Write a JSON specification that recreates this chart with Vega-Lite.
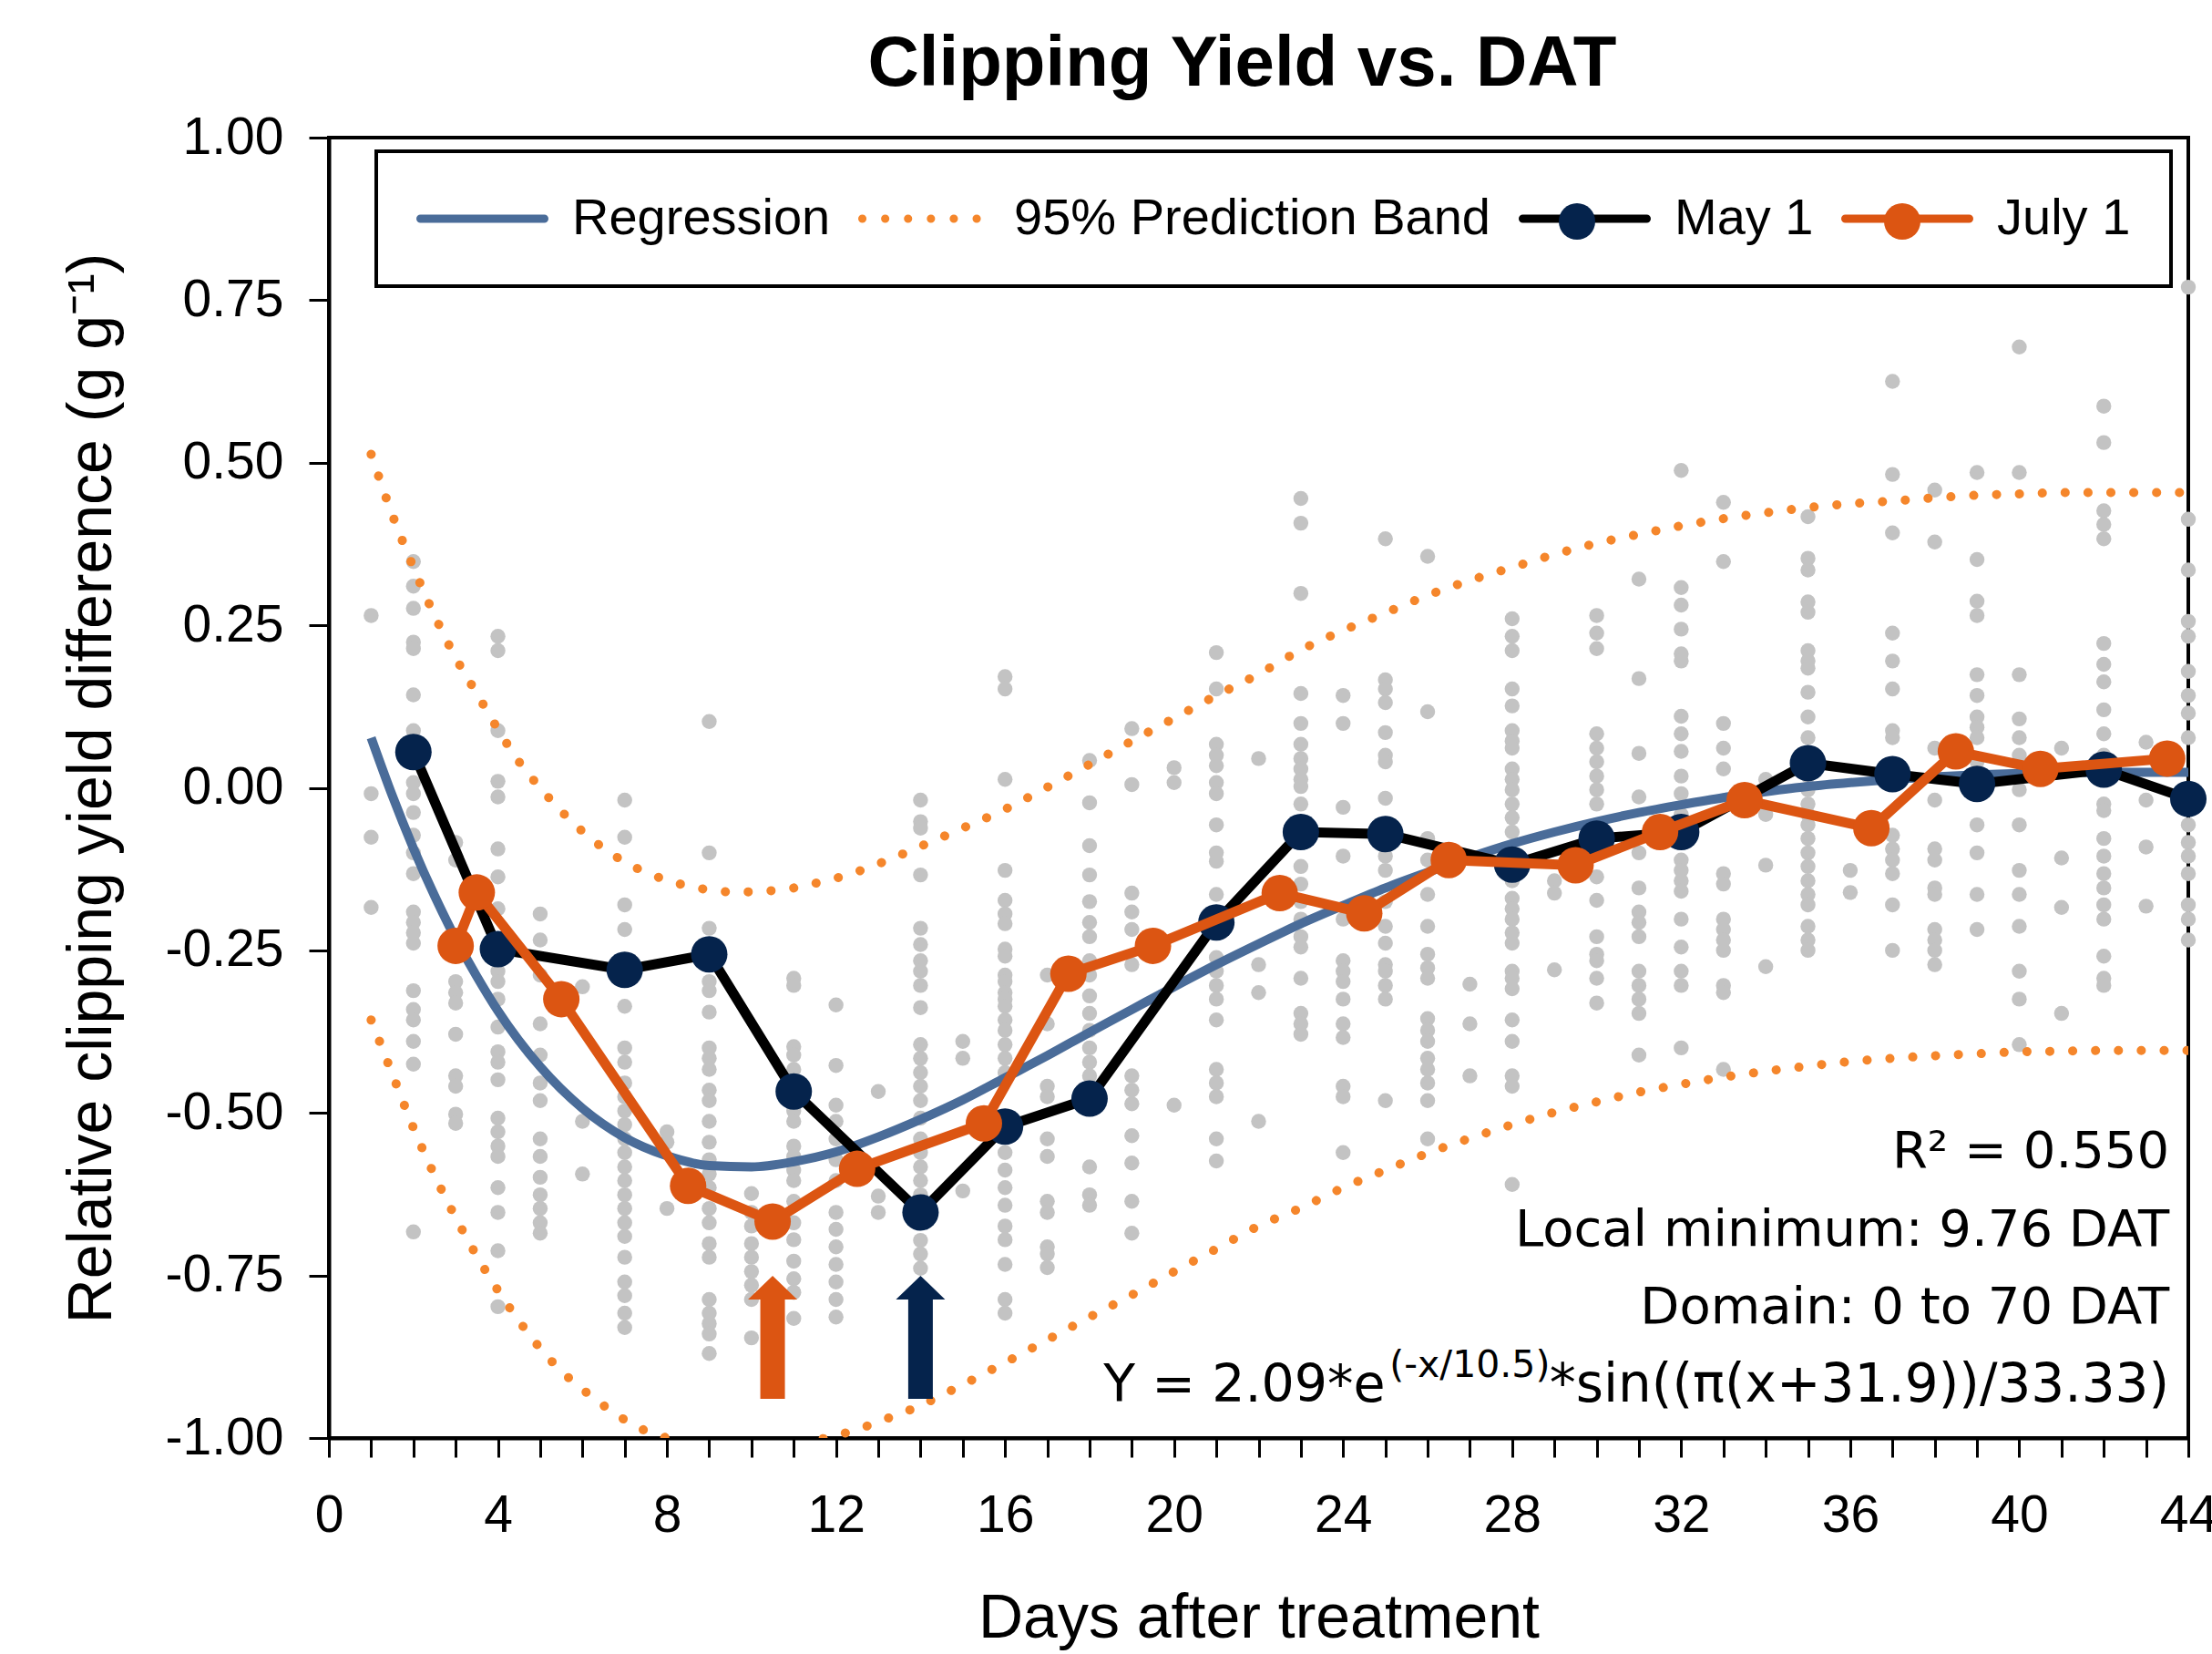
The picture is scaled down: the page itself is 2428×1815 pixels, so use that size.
{
  "$schema": "https://vega.github.io/schema/vega-lite/v6.json",
  "width": 2041,
  "height": 1427,
  "autosize": {"type": "none"},
  "padding": {"left": 361, "top": 151, "right": 26, "bottom": 237},
  "background": "white",
  "config": {
    "view": {"stroke": "black", "strokeWidth": 4},
    "axis": {"labelFont": "Liberation Sans", "titleFont": "Liberation Sans", "titleFontWeight": "normal", "labelColor": "black", "titleColor": "black", "domainColor": "black", "tickColor": "black", "grid": false}
  },
  "title": {"text": "Clipping Yield vs. DAT", "font": "Liberation Sans", "fontSize": 78, "fontWeight": "bold", "color": "black", "anchor": "middle", "dx": -18, "offset": 12},
  "datasets": {
    "scatter": [
      {"x":1,"y":0.265},{"x":1,"y":-0.009},{"x":1,"y":-0.076},{"x":1,"y":-0.184},
      {"x":2,"y":0.348},{"x":2,"y":0.31},{"x":2,"y":0.276},{"x":2,"y":0.224},{"x":2,"y":0.214},{"x":2,"y":0.143},{"x":2,"y":0.088},{"x":2,"y":0.008},{"x":2,"y":-0.009},{"x":2,"y":-0.038},{"x":2,"y":-0.073},{"x":2,"y":-0.1},{"x":2,"y":-0.132},{"x":2,"y":-0.191},{"x":2,"y":-0.207},{"x":2,"y":-0.223},{"x":2,"y":-0.239},{"x":2,"y":-0.312},{"x":2,"y":-0.341},{"x":2,"y":-0.357},{"x":2,"y":-0.39},{"x":2,"y":-0.425},{"x":2,"y":-0.683},
      {"x":3,"y":-0.084},{"x":3,"y":-0.111},{"x":3,"y":-0.298},{"x":3,"y":-0.315},{"x":3,"y":-0.331},{"x":3,"y":-0.379},{"x":3,"y":-0.443},{"x":3,"y":-0.459},{"x":3,"y":-0.502},{"x":3,"y":-0.516},
      {"x":4,"y":0.233},{"x":4,"y":0.211},{"x":4,"y":0.088},{"x":4,"y":0.01},{"x":4,"y":-0.014},{"x":4,"y":-0.094},{"x":4,"y":-0.137},{"x":4,"y":-0.186},{"x":4,"y":-0.282},{"x":4,"y":-0.298},{"x":4,"y":-0.325},{"x":4,"y":-0.368},{"x":4,"y":-0.406},{"x":4,"y":-0.422},{"x":4,"y":-0.449},{"x":4,"y":-0.508},{"x":4,"y":-0.529},{"x":4,"y":-0.551},{"x":4,"y":-0.567},{"x":4,"y":-0.615},{"x":4,"y":-0.653},{"x":4,"y":-0.712},{"x":4,"y":-0.798},
      {"x":5,"y":-0.194},{"x":5,"y":-0.234},{"x":5,"y":-0.288},{"x":5,"y":-0.363},{"x":5,"y":-0.411},{"x":5,"y":-0.454},{"x":5,"y":-0.481},{"x":5,"y":-0.54},{"x":5,"y":-0.567},{"x":5,"y":-0.599},{"x":5,"y":-0.626},{"x":5,"y":-0.647},{"x":5,"y":-0.669},{"x":5,"y":-0.685},
      {"x":6,"y":-0.306},{"x":6,"y":-0.513},{"x":6,"y":-0.594},
      {"x":7,"y":-0.019},{"x":7,"y":-0.076},{"x":7,"y":-0.18},{"x":7,"y":-0.218},{"x":7,"y":-0.336},{"x":7,"y":-0.4},{"x":7,"y":-0.422},{"x":7,"y":-0.454},{"x":7,"y":-0.475},{"x":7,"y":-0.497},{"x":7,"y":-0.518},{"x":7,"y":-0.54},{"x":7,"y":-0.561},{"x":7,"y":-0.583},{"x":7,"y":-0.604},{"x":7,"y":-0.626},{"x":7,"y":-0.647},{"x":7,"y":-0.669},{"x":7,"y":-0.69},{"x":7,"y":-0.722},{"x":7,"y":-0.76},{"x":7,"y":-0.781},{"x":7,"y":-0.808},{"x":7,"y":-0.83},
      {"x":8,"y":-0.529},{"x":8,"y":-0.545},{"x":8,"y":-0.647},
      {"x":9,"y":0.102},{"x":9,"y":-0.1},{"x":9,"y":-0.216},{"x":9,"y":-0.298},{"x":9,"y":-0.312},{"x":9,"y":-0.345},{"x":9,"y":-0.4},{"x":9,"y":-0.416},{"x":9,"y":-0.433},{"x":9,"y":-0.465},{"x":9,"y":-0.481},{"x":9,"y":-0.513},{"x":9,"y":-0.545},{"x":9,"y":-0.572},{"x":9,"y":-0.594},{"x":9,"y":-0.615},{"x":9,"y":-0.647},{"x":9,"y":-0.669},{"x":9,"y":-0.701},{"x":9,"y":-0.722},{"x":9,"y":-0.787},{"x":9,"y":-0.808},{"x":9,"y":-0.824},{"x":9,"y":-0.84},{"x":9,"y":-0.87},
      {"x":10,"y":-0.624},{"x":10,"y":-0.653},{"x":10,"y":-0.674},{"x":10,"y":-0.701},{"x":10,"y":-0.722},{"x":10,"y":-0.744},{"x":10,"y":-0.765},{"x":10,"y":-0.787},{"x":10,"y":-0.846},
      {"x":11,"y":-0.293},{"x":11,"y":-0.304},{"x":11,"y":-0.398},{"x":11,"y":-0.411},{"x":11,"y":-0.433},{"x":11,"y":-0.454},{"x":11,"y":-0.497},{"x":11,"y":-0.513},{"x":11,"y":-0.551},{"x":11,"y":-0.567},{"x":11,"y":-0.588},{"x":11,"y":-0.604},{"x":11,"y":-0.636},{"x":11,"y":-0.669},{"x":11,"y":-0.695},{"x":11,"y":-0.728},{"x":11,"y":-0.755},{"x":11,"y":-0.776},{"x":11,"y":-0.816},
      {"x":12,"y":-0.334},{"x":12,"y":-0.427},{"x":12,"y":-0.488},{"x":12,"y":-0.513},{"x":12,"y":-0.54},{"x":12,"y":-0.572},{"x":12,"y":-0.604},{"x":12,"y":-0.653},{"x":12,"y":-0.679},{"x":12,"y":-0.706},{"x":12,"y":-0.733},{"x":12,"y":-0.76},{"x":12,"y":-0.787},{"x":12,"y":-0.814},
      {"x":13,"y":-0.467},{"x":13,"y":-0.628},{"x":13,"y":-0.653},
      {"x":14,"y":-0.019},{"x":14,"y":-0.052},{"x":14,"y":-0.062},{"x":14,"y":-0.134},{"x":14,"y":-0.216},{"x":14,"y":-0.241},{"x":14,"y":-0.266},{"x":14,"y":-0.282},{"x":14,"y":-0.304},{"x":14,"y":-0.338},{"x":14,"y":-0.395},{"x":14,"y":-0.416},{"x":14,"y":-0.438},{"x":14,"y":-0.459},{"x":14,"y":-0.481},{"x":14,"y":-0.508},{"x":14,"y":-0.54},{"x":14,"y":-0.561},{"x":14,"y":-0.583},{"x":14,"y":-0.604},{"x":14,"y":-0.626},{"x":14,"y":-0.696},{"x":14,"y":-0.717},{"x":14,"y":-0.739},
      {"x":15,"y":-0.39},{"x":15,"y":-0.416},{"x":15,"y":-0.62},
      {"x":16,"y":0.171},{"x":16,"y":0.152},{"x":16,"y":0.013},{"x":16,"y":-0.127},{"x":16,"y":-0.173},{"x":16,"y":-0.194},{"x":16,"y":-0.209},{"x":16,"y":-0.248},{"x":16,"y":-0.259},{"x":16,"y":-0.288},{"x":16,"y":-0.298},{"x":16,"y":-0.315},{"x":16,"y":-0.325},{"x":16,"y":-0.336},{"x":16,"y":-0.357},{"x":16,"y":-0.373},{"x":16,"y":-0.395},{"x":16,"y":-0.416},{"x":16,"y":-0.438},{"x":16,"y":-0.561},{"x":16,"y":-0.588},{"x":16,"y":-0.615},{"x":16,"y":-0.642},{"x":16,"y":-0.674},{"x":16,"y":-0.695},{"x":16,"y":-0.733},{"x":16,"y":-0.787},{"x":16,"y":-0.808},
      {"x":17,"y":-0.288},{"x":17,"y":-0.363},{"x":17,"y":-0.459},{"x":17,"y":-0.475},{"x":17,"y":-0.54},{"x":17,"y":-0.567},{"x":17,"y":-0.636},{"x":17,"y":-0.653},{"x":17,"y":-0.706},{"x":17,"y":-0.717},{"x":17,"y":-0.738},
      {"x":18,"y":0.042},{"x":18,"y":-0.023},{"x":18,"y":-0.089},{"x":18,"y":-0.134},{"x":18,"y":-0.175},{"x":18,"y":-0.207},{"x":18,"y":-0.229},{"x":18,"y":-0.266},{"x":18,"y":-0.288},{"x":18,"y":-0.32},{"x":18,"y":-0.347},{"x":18,"y":-0.373},{"x":18,"y":-0.4},{"x":18,"y":-0.422},{"x":18,"y":-0.443},{"x":18,"y":-0.583},{"x":18,"y":-0.626},{"x":18,"y":-0.642},
      {"x":19,"y":0.091},{"x":19,"y":0.005},{"x":19,"y":-0.162},{"x":19,"y":-0.191},{"x":19,"y":-0.218},{"x":19,"y":-0.272},{"x":19,"y":-0.443},{"x":19,"y":-0.465},{"x":19,"y":-0.486},{"x":19,"y":-0.535},{"x":19,"y":-0.577},{"x":19,"y":-0.636},{"x":19,"y":-0.685},
      {"x":20,"y":0.031},{"x":20,"y":0.008},{"x":20,"y":-0.488},
      {"x":21,"y":0.208},{"x":21,"y":0.152},{"x":21,"y":0.067},{"x":21,"y":0.05},{"x":21,"y":0.034},{"x":21,"y":0.008},{"x":21,"y":-0.009},{"x":21,"y":-0.057},{"x":21,"y":-0.1},{"x":21,"y":-0.113},{"x":21,"y":-0.164},{"x":21,"y":-0.213},{"x":21,"y":-0.261},{"x":21,"y":-0.282},{"x":21,"y":-0.304},{"x":21,"y":-0.325},{"x":21,"y":-0.357},{"x":21,"y":-0.433},{"x":21,"y":-0.454},{"x":21,"y":-0.475},{"x":21,"y":-0.54},{"x":21,"y":-0.574},
      {"x":22,"y":0.045},{"x":22,"y":-0.272},{"x":22,"y":-0.315},{"x":22,"y":-0.513},
      {"x":23,"y":0.445},{"x":23,"y":0.407},{"x":23,"y":0.299},{"x":23,"y":0.145},{"x":23,"y":0.099},{"x":23,"y":0.067},{"x":23,"y":0.045},{"x":23,"y":0.029},{"x":23,"y":0.013},{"x":23,"y":0.002},{"x":23,"y":-0.025},{"x":23,"y":-0.121},{"x":23,"y":-0.148},{"x":23,"y":-0.175},{"x":23,"y":-0.202},{"x":23,"y":-0.229},{"x":23,"y":-0.245},{"x":23,"y":-0.293},{"x":23,"y":-0.347},{"x":23,"y":-0.363},{"x":23,"y":-0.379},
      {"x":24,"y":0.142},{"x":24,"y":0.099},{"x":24,"y":-0.03},{"x":24,"y":-0.105},{"x":24,"y":-0.202},{"x":24,"y":-0.266},{"x":24,"y":-0.282},{"x":24,"y":-0.298},{"x":24,"y":-0.325},{"x":24,"y":-0.363},{"x":24,"y":-0.384},{"x":24,"y":-0.459},{"x":24,"y":-0.475},{"x":24,"y":-0.561},
      {"x":25,"y":0.383},{"x":25,"y":0.166},{"x":25,"y":0.152},{"x":25,"y":0.131},{"x":25,"y":0.085},{"x":25,"y":0.05},{"x":25,"y":0.04},{"x":25,"y":-0.016},{"x":25,"y":-0.105},{"x":25,"y":-0.127},{"x":25,"y":-0.175},{"x":25,"y":-0.213},{"x":25,"y":-0.239},{"x":25,"y":-0.272},{"x":25,"y":-0.282},{"x":25,"y":-0.304},{"x":25,"y":-0.325},{"x":25,"y":-0.481},
      {"x":26,"y":0.356},{"x":26,"y":0.117},{"x":26,"y":-0.078},{"x":26,"y":-0.111},{"x":26,"y":-0.164},{"x":26,"y":-0.213},{"x":26,"y":-0.256},{"x":26,"y":-0.277},{"x":26,"y":-0.293},{"x":26,"y":-0.355},{"x":26,"y":-0.373},{"x":26,"y":-0.39},{"x":26,"y":-0.416},{"x":26,"y":-0.433},{"x":26,"y":-0.454},{"x":26,"y":-0.481},{"x":26,"y":-0.54},
      {"x":27,"y":-0.302},{"x":27,"y":-0.363},{"x":27,"y":-0.443},
      {"x":28,"y":0.26},{"x":28,"y":0.233},{"x":28,"y":0.211},{"x":28,"y":0.152},{"x":28,"y":0.126},{"x":28,"y":0.088},{"x":28,"y":0.072},{"x":28,"y":0.061},{"x":28,"y":0.029},{"x":28,"y":0.013},{"x":28,"y":-0.003},{"x":28,"y":-0.025},{"x":28,"y":-0.046},{"x":28,"y":-0.068},{"x":28,"y":-0.121},{"x":28,"y":-0.143},{"x":28,"y":-0.17},{"x":28,"y":-0.186},{"x":28,"y":-0.202},{"x":28,"y":-0.223},{"x":28,"y":-0.239},{"x":28,"y":-0.282},{"x":28,"y":-0.293},{"x":28,"y":-0.309},{"x":28,"y":-0.357},{"x":28,"y":-0.39},{"x":28,"y":-0.443},{"x":28,"y":-0.459},{"x":28,"y":-0.61},
      {"x":29,"y":-0.143},{"x":29,"y":-0.162},{"x":29,"y":-0.28},
      {"x":30,"y":0.265},{"x":30,"y":0.238},{"x":30,"y":0.214},{"x":30,"y":0.083},{"x":30,"y":0.061},{"x":30,"y":0.04},{"x":30,"y":0.018},{"x":30,"y":-0.003},{"x":30,"y":-0.025},{"x":30,"y":-0.057},{"x":30,"y":-0.137},{"x":30,"y":-0.173},{"x":30,"y":-0.229},{"x":30,"y":-0.256},{"x":30,"y":-0.266},{"x":30,"y":-0.293},{"x":30,"y":-0.331},
      {"x":31,"y":0.321},{"x":31,"y":0.168},{"x":31,"y":0.053},{"x":31,"y":-0.014},{"x":31,"y":-0.1},{"x":31,"y":-0.154},{"x":31,"y":-0.191},{"x":31,"y":-0.207},{"x":31,"y":-0.229},{"x":31,"y":-0.282},{"x":31,"y":-0.304},{"x":31,"y":-0.325},{"x":31,"y":-0.347},{"x":31,"y":-0.411},
      {"x":32,"y":0.488},{"x":32,"y":0.308},{"x":32,"y":0.281},{"x":32,"y":0.244},{"x":32,"y":0.206},{"x":32,"y":0.195},{"x":32,"y":0.11},{"x":32,"y":0.083},{"x":32,"y":0.056},{"x":32,"y":0.018},{"x":32,"y":-0.009},{"x":32,"y":-0.041},{"x":32,"y":-0.078},{"x":32,"y":-0.111},{"x":32,"y":-0.127},{"x":32,"y":-0.143},{"x":32,"y":-0.159},{"x":32,"y":-0.202},{"x":32,"y":-0.245},{"x":32,"y":-0.282},{"x":32,"y":-0.304},{"x":32,"y":-0.4},
      {"x":33,"y":0.439},{"x":33,"y":0.348},{"x":33,"y":0.099},{"x":33,"y":0.061},{"x":33,"y":0.029},{"x":33,"y":-0.132},{"x":33,"y":-0.148},{"x":33,"y":-0.202},{"x":33,"y":-0.218},{"x":33,"y":-0.234},{"x":33,"y":-0.25},{"x":33,"y":-0.304},{"x":33,"y":-0.315},{"x":33,"y":-0.433},
      {"x":34,"y":0.013},{"x":34,"y":-0.041},{"x":34,"y":-0.119},{"x":34,"y":-0.275},
      {"x":35,"y":0.417},{"x":35,"y":0.353},{"x":35,"y":0.335},{"x":35,"y":0.286},{"x":35,"y":0.27},{"x":35,"y":0.211},{"x":35,"y":0.195},{"x":35,"y":0.184},{"x":35,"y":0.147},{"x":35,"y":0.109},{"x":35,"y":0.077},{"x":35,"y":0.018},{"x":35,"y":-0.003},{"x":35,"y":-0.025},{"x":35,"y":-0.041},{"x":35,"y":-0.057},{"x":35,"y":-0.078},{"x":35,"y":-0.1},{"x":35,"y":-0.121},{"x":35,"y":-0.143},{"x":35,"y":-0.164},{"x":35,"y":-0.18},{"x":35,"y":-0.213},{"x":35,"y":-0.234},{"x":35,"y":-0.25},
      {"x":36,"y":-0.127},{"x":36,"y":-0.161},
      {"x":37,"y":0.625},{"x":37,"y":0.482},{"x":37,"y":0.392},{"x":37,"y":0.238},{"x":37,"y":0.195},{"x":37,"y":0.152},{"x":37,"y":0.088},{"x":37,"y":0.077},{"x":37,"y":-0.073},{"x":37,"y":-0.094},{"x":37,"y":-0.111},{"x":37,"y":-0.132},{"x":37,"y":-0.18},{"x":37,"y":-0.25},
      {"x":38,"y":0.458},{"x":38,"y":0.378},{"x":38,"y":0.061},{"x":38,"y":-0.019},{"x":38,"y":-0.094},{"x":38,"y":-0.111},{"x":38,"y":-0.154},{"x":38,"y":-0.164},{"x":38,"y":-0.218},{"x":38,"y":-0.234},{"x":38,"y":-0.25},{"x":38,"y":-0.272},
      {"x":39,"y":0.485},{"x":39,"y":0.351},{"x":39,"y":0.287},{"x":39,"y":0.265},{"x":39,"y":0.174},{"x":39,"y":0.142},{"x":39,"y":0.109},{"x":39,"y":0.093},{"x":39,"y":0.077},{"x":39,"y":0.04},{"x":39,"y":-0.057},{"x":39,"y":-0.1},{"x":39,"y":-0.164},{"x":39,"y":-0.218},
      {"x":40,"y":0.678},{"x":40,"y":0.485},{"x":40,"y":0.174},{"x":40,"y":0.106},{"x":40,"y":0.077},{"x":40,"y":0.05},{"x":40,"y":-0.003},{"x":40,"y":-0.057},{"x":40,"y":-0.127},{"x":40,"y":-0.164},{"x":40,"y":-0.213},{"x":40,"y":-0.282},{"x":40,"y":-0.325},{"x":40,"y":-0.395},
      {"x":41,"y":0.061},{"x":41,"y":-0.108},{"x":41,"y":-0.184},{"x":41,"y":-0.347},
      {"x":42,"y":0.587},{"x":42,"y":0.531},{"x":42,"y":0.426},{"x":42,"y":0.405},{"x":42,"y":0.383},{"x":42,"y":0.222},{"x":42,"y":0.19},{"x":42,"y":0.163},{"x":42,"y":0.12},{"x":42,"y":0.083},{"x":42,"y":0.05},{"x":42,"y":-0.025},{"x":42,"y":-0.035},{"x":42,"y":-0.078},{"x":42,"y":-0.105},{"x":42,"y":-0.132},{"x":42,"y":-0.154},{"x":42,"y":-0.18},{"x":42,"y":-0.202},{"x":42,"y":-0.259},{"x":42,"y":-0.293},{"x":42,"y":-0.304},
      {"x":43,"y":0.07},{"x":43,"y":-0.019},{"x":43,"y":-0.091},{"x":43,"y":-0.182},
      {"x":44,"y":0.77},{"x":44,"y":0.413},{"x":44,"y":0.335},{"x":44,"y":0.256},{"x":44,"y":0.233},{"x":44,"y":0.179},{"x":44,"y":0.142},{"x":44,"y":0.115},{"x":44,"y":0.077},{"x":44,"y":-0.003},{"x":44,"y":-0.057},{"x":44,"y":-0.084},{"x":44,"y":-0.105},{"x":44,"y":-0.132},{"x":44,"y":-0.18},{"x":44,"y":-0.202},{"x":44,"y":-0.234}
    ],
    "regression": [
      {"x":1,"y":0.077,"series":"Regression"},{"x":1.5,"y":-0.012,"series":"Regression"},{"x":2,"y":-0.093,"series":"Regression"},{"x":2.5,"y":-0.166,"series":"Regression"},{"x":3,"y":-0.232,"series":"Regression"},{"x":3.5,"y":-0.29,"series":"Regression"},{"x":4,"y":-0.343,"series":"Regression"},{"x":5,"y":-0.429,"series":"Regression"},{"x":6,"y":-0.493,"series":"Regression"},{"x":7,"y":-0.538,"series":"Regression"},{"x":8,"y":-0.566,"series":"Regression"},{"x":9,"y":-0.581,"series":"Regression"},{"x":10,"y":-0.583,"series":"Regression"},{"x":11,"y":-0.575,"series":"Regression"},{"x":12,"y":-0.56,"series":"Regression"},{"x":13,"y":-0.537,"series":"Regression"},{"x":14,"y":-0.51,"series":"Regression"},{"x":15,"y":-0.48,"series":"Regression"},{"x":16,"y":-0.446,"series":"Regression"},{"x":17,"y":-0.412,"series":"Regression"},{"x":18,"y":-0.376,"series":"Regression"},{"x":19,"y":-0.341,"series":"Regression"},{"x":20,"y":-0.306,"series":"Regression"},{"x":21,"y":-0.272,"series":"Regression"},{"x":22,"y":-0.24,"series":"Regression"},{"x":23,"y":-0.209,"series":"Regression"},{"x":24,"y":-0.181,"series":"Regression"},{"x":25,"y":-0.154,"series":"Regression"},{"x":26,"y":-0.13,"series":"Regression"},{"x":27,"y":-0.107,"series":"Regression"},{"x":28,"y":-0.086,"series":"Regression"},{"x":29,"y":-0.068,"series":"Regression"},{"x":30,"y":-0.052,"series":"Regression"},{"x":31,"y":-0.038,"series":"Regression"},{"x":32,"y":-0.026,"series":"Regression"},{"x":33,"y":-0.015,"series":"Regression"},{"x":34,"y":-0.006,"series":"Regression"},{"x":35,"y":0.002,"series":"Regression"},{"x":36,"y":0.008,"series":"Regression"},{"x":37,"y":0.013,"series":"Regression"},{"x":38,"y":0.017,"series":"Regression"},{"x":39,"y":0.02,"series":"Regression"},{"x":40,"y":0.022,"series":"Regression"},{"x":41,"y":0.023,"series":"Regression"},{"x":42,"y":0.024,"series":"Regression"},{"x":43,"y":0.024,"series":"Regression"},{"x":44,"y":0.024,"series":"Regression"}
    ],
    "band": [
      {"x":1,"y":0.513,"bound":"upper","series":"95% Prediction Band"},{"x":1.5,"y":0.42,"bound":"upper","series":"95% Prediction Band"},{"x":2,"y":0.339,"bound":"upper","series":"95% Prediction Band"},{"x":2.5,"y":0.265,"bound":"upper","series":"95% Prediction Band"},{"x":3,"y":0.2,"bound":"upper","series":"95% Prediction Band"},{"x":3.5,"y":0.145,"bound":"upper","series":"95% Prediction Band"},{"x":4,"y":0.09,"bound":"upper","series":"95% Prediction Band"},{"x":4.5,"y":0.04,"bound":"upper","series":"95% Prediction Band"},{"x":5,"y":0.0,"bound":"upper","series":"95% Prediction Band"},{"x":5.5,"y":-0.036,"bound":"upper","series":"95% Prediction Band"},{"x":6,"y":-0.067,"bound":"upper","series":"95% Prediction Band"},{"x":6.5,"y":-0.093,"bound":"upper","series":"95% Prediction Band"},{"x":7,"y":-0.114,"bound":"upper","series":"95% Prediction Band"},{"x":7.5,"y":-0.13,"bound":"upper","series":"95% Prediction Band"},{"x":8,"y":-0.142,"bound":"upper","series":"95% Prediction Band"},{"x":8.5,"y":-0.151,"bound":"upper","series":"95% Prediction Band"},{"x":9,"y":-0.157,"bound":"upper","series":"95% Prediction Band"},{"x":9.5,"y":-0.16,"bound":"upper","series":"95% Prediction Band"},{"x":10,"y":-0.16,"bound":"upper","series":"95% Prediction Band"},{"x":10.5,"y":-0.158,"bound":"upper","series":"95% Prediction Band"},{"x":11,"y":-0.154,"bound":"upper","series":"95% Prediction Band"},{"x":11.5,"y":-0.147,"bound":"upper","series":"95% Prediction Band"},{"x":12,"y":-0.139,"bound":"upper","series":"95% Prediction Band"},{"x":12.5,"y":-0.129,"bound":"upper","series":"95% Prediction Band"},{"x":13,"y":-0.117,"bound":"upper","series":"95% Prediction Band"},{"x":13.5,"y":-0.104,"bound":"upper","series":"95% Prediction Band"},{"x":14,"y":-0.09,"bound":"upper","series":"95% Prediction Band"},{"x":15,"y":-0.062,"bound":"upper","series":"95% Prediction Band"},{"x":16,"y":-0.033,"bound":"upper","series":"95% Prediction Band"},{"x":17,"y":0.001,"bound":"upper","series":"95% Prediction Band"},{"x":18,"y":0.036,"bound":"upper","series":"95% Prediction Band"},{"x":19,"y":0.072,"bound":"upper","series":"95% Prediction Band"},{"x":20,"y":0.107,"bound":"upper","series":"95% Prediction Band"},{"x":21,"y":0.142,"bound":"upper","series":"95% Prediction Band"},{"x":22,"y":0.175,"bound":"upper","series":"95% Prediction Band"},{"x":23,"y":0.212,"bound":"upper","series":"95% Prediction Band"},{"x":24,"y":0.242,"bound":"upper","series":"95% Prediction Band"},{"x":25,"y":0.269,"bound":"upper","series":"95% Prediction Band"},{"x":26,"y":0.296,"bound":"upper","series":"95% Prediction Band"},{"x":27,"y":0.319,"bound":"upper","series":"95% Prediction Band"},{"x":28,"y":0.339,"bound":"upper","series":"95% Prediction Band"},{"x":29,"y":0.359,"bound":"upper","series":"95% Prediction Band"},{"x":30,"y":0.376,"bound":"upper","series":"95% Prediction Band"},{"x":31,"y":0.39,"bound":"upper","series":"95% Prediction Band"},{"x":32,"y":0.403,"bound":"upper","series":"95% Prediction Band"},{"x":33,"y":0.414,"bound":"upper","series":"95% Prediction Band"},{"x":34,"y":0.423,"bound":"upper","series":"95% Prediction Band"},{"x":35,"y":0.431,"bound":"upper","series":"95% Prediction Band"},{"x":36,"y":0.437,"bound":"upper","series":"95% Prediction Band"},{"x":37,"y":0.441,"bound":"upper","series":"95% Prediction Band"},{"x":38,"y":0.446,"bound":"upper","series":"95% Prediction Band"},{"x":39,"y":0.45,"bound":"upper","series":"95% Prediction Band"},{"x":40,"y":0.452,"bound":"upper","series":"95% Prediction Band"},{"x":41,"y":0.454,"bound":"upper","series":"95% Prediction Band"},{"x":42,"y":0.454,"bound":"upper","series":"95% Prediction Band"},{"x":43,"y":0.454,"bound":"upper","series":"95% Prediction Band"},{"x":44,"y":0.454,"bound":"upper","series":"95% Prediction Band"},
      {"x":1,"y":-0.357,"bound":"lower","series":"95% Prediction Band"},{"x":1.5,"y":-0.44,"bound":"lower","series":"95% Prediction Band"},{"x":2,"y":-0.523,"bound":"lower","series":"95% Prediction Band"},{"x":2.5,"y":-0.596,"bound":"lower","series":"95% Prediction Band"},{"x":3,"y":-0.661,"bound":"lower","series":"95% Prediction Band"},{"x":3.5,"y":-0.72,"bound":"lower","series":"95% Prediction Band"},{"x":4,"y":-0.773,"bound":"lower","series":"95% Prediction Band"},{"x":4.5,"y":-0.82,"bound":"lower","series":"95% Prediction Band"},{"x":5,"y":-0.862,"bound":"lower","series":"95% Prediction Band"},{"x":5.5,"y":-0.897,"bound":"lower","series":"95% Prediction Band"},{"x":6,"y":-0.925,"bound":"lower","series":"95% Prediction Band"},{"x":6.5,"y":-0.95,"bound":"lower","series":"95% Prediction Band"},{"x":7,"y":-0.972,"bound":"lower","series":"95% Prediction Band"},{"x":7.5,"y":-0.989,"bound":"lower","series":"95% Prediction Band"},{"x":8,"y":-1.0,"bound":"lower","series":"95% Prediction Band"},{"x":9,"y":-1.012,"bound":"lower","series":"95% Prediction Band"},{"x":10,"y":-1.015,"bound":"lower","series":"95% Prediction Band"},{"x":11,"y":-1.01,"bound":"lower","series":"95% Prediction Band"},{"x":12,"y":-0.996,"bound":"lower","series":"95% Prediction Band"},{"x":12.5,"y":-0.987,"bound":"lower","series":"95% Prediction Band"},{"x":13,"y":-0.975,"bound":"lower","series":"95% Prediction Band"},{"x":13.5,"y":-0.963,"bound":"lower","series":"95% Prediction Band"},{"x":14,"y":-0.95,"bound":"lower","series":"95% Prediction Band"},{"x":14.5,"y":-0.934,"bound":"lower","series":"95% Prediction Band"},{"x":15,"y":-0.918,"bound":"lower","series":"95% Prediction Band"},{"x":15.5,"y":-0.901,"bound":"lower","series":"95% Prediction Band"},{"x":16,"y":-0.884,"bound":"lower","series":"95% Prediction Band"},{"x":17,"y":-0.849,"bound":"lower","series":"95% Prediction Band"},{"x":18,"y":-0.814,"bound":"lower","series":"95% Prediction Band"},{"x":19,"y":-0.78,"bound":"lower","series":"95% Prediction Band"},{"x":20,"y":-0.744,"bound":"lower","series":"95% Prediction Band"},{"x":21,"y":-0.709,"bound":"lower","series":"95% Prediction Band"},{"x":22,"y":-0.674,"bound":"lower","series":"95% Prediction Band"},{"x":23,"y":-0.646,"bound":"lower","series":"95% Prediction Band"},{"x":24,"y":-0.615,"bound":"lower","series":"95% Prediction Band"},{"x":25,"y":-0.588,"bound":"lower","series":"95% Prediction Band"},{"x":26,"y":-0.562,"bound":"lower","series":"95% Prediction Band"},{"x":27,"y":-0.539,"bound":"lower","series":"95% Prediction Band"},{"x":28,"y":-0.518,"bound":"lower","series":"95% Prediction Band"},{"x":29,"y":-0.499,"bound":"lower","series":"95% Prediction Band"},{"x":30,"y":-0.483,"bound":"lower","series":"95% Prediction Band"},{"x":31,"y":-0.468,"bound":"lower","series":"95% Prediction Band"},{"x":32,"y":-0.456,"bound":"lower","series":"95% Prediction Band"},{"x":33,"y":-0.445,"bound":"lower","series":"95% Prediction Band"},{"x":34,"y":-0.436,"bound":"lower","series":"95% Prediction Band"},{"x":35,"y":-0.428,"bound":"lower","series":"95% Prediction Band"},{"x":36,"y":-0.421,"bound":"lower","series":"95% Prediction Band"},{"x":37,"y":-0.416,"bound":"lower","series":"95% Prediction Band"},{"x":38,"y":-0.412,"bound":"lower","series":"95% Prediction Band"},{"x":39,"y":-0.409,"bound":"lower","series":"95% Prediction Band"},{"x":40,"y":-0.406,"bound":"lower","series":"95% Prediction Band"},{"x":41,"y":-0.405,"bound":"lower","series":"95% Prediction Band"},{"x":42,"y":-0.404,"bound":"lower","series":"95% Prediction Band"},{"x":43,"y":-0.404,"bound":"lower","series":"95% Prediction Band"},{"x":44,"y":-0.404,"bound":"lower","series":"95% Prediction Band"}
    ],
    "may": [
      {"x":2,"y":0.055,"series":"May 1"},{"x":4,"y":-0.248,"series":"May 1"},{"x":7,"y":-0.28,"series":"May 1"},{"x":9,"y":-0.256,"series":"May 1"},{"x":11,"y":-0.467,"series":"May 1"},{"x":14,"y":-0.653,"series":"May 1"},{"x":16,"y":-0.521,"series":"May 1"},{"x":18,"y":-0.478,"series":"May 1"},{"x":21,"y":-0.207,"series":"May 1"},{"x":23,"y":-0.068,"series":"May 1"},{"x":25,"y":-0.071,"series":"May 1"},{"x":28,"y":-0.118,"series":"May 1"},{"x":30,"y":-0.078,"series":"May 1"},{"x":32,"y":-0.068,"series":"May 1"},{"x":35,"y":0.038,"series":"May 1"},{"x":37,"y":0.021,"series":"May 1"},{"x":39,"y":0.006,"series":"May 1"},{"x":42,"y":0.028,"series":"May 1"},{"x":44,"y":-0.017,"series":"May 1"}
    ],
    "july": [
      {"x":3,"y":-0.243,"series":"July 1"},{"x":3.5,"y":-0.161,"series":"July 1"},{"x":5.5,"y":-0.325,"series":"July 1"},{"x":8.5,"y":-0.612,"series":"July 1"},{"x":10.5,"y":-0.667,"series":"July 1"},{"x":12.5,"y":-0.586,"series":"July 1"},{"x":15.5,"y":-0.516,"series":"July 1"},{"x":17.5,"y":-0.286,"series":"July 1"},{"x":19.5,"y":-0.243,"series":"July 1"},{"x":22.5,"y":-0.162,"series":"July 1"},{"x":24.5,"y":-0.193,"series":"July 1"},{"x":26.5,"y":-0.111,"series":"July 1"},{"x":29.5,"y":-0.119,"series":"July 1"},{"x":31.5,"y":-0.068,"series":"July 1"},{"x":33.5,"y":-0.019,"series":"July 1"},{"x":36.5,"y":-0.062,"series":"July 1"},{"x":38.5,"y":0.056,"series":"July 1"},{"x":40.5,"y":0.029,"series":"July 1"},{"x":43.5,"y":0.045,"series":"July 1"}
    ],
    "arrows": [
      {"x":10.5,"y":-0.845,"series":"July 1"},{"x":14,"y":-0.845,"series":"May 1"}
    ],
    "notes": [
      {"x":43.55,"y":-0.584,"label":"R² = 0.550"},
      {"x":43.55,"y":-0.704,"label":"Local minimum: 9.76 DAT"},
      {"x":43.55,"y":-0.823,"label":"Domain: 0 to 70 DAT"}
    ],
    "formulaTail": [{"x":43.55,"y":-0.944,"label":"*sin((π(x+31.9))/33.33)"}],
    "formulaHead": [{"x":25.0,"y":-0.944,"label":"Y = 2.09*e"}],
    "formulaSup": [{"x":25.1,"y":-0.906,"label":"(-x/10.5)"}]
  },
  "encoding": {
    "x": {"field": "x", "type": "quantitative", "title": "Days after treatment",
      "scale": {"domain": [0, 44], "nice": false, "zero": false},
      "axis": {"values": [0,1,2,3,4,5,6,7,8,9,10,11,12,13,14,15,16,17,18,19,20,21,22,23,24,25,26,27,28,29,30,31,32,33,34,35,36,37,38,39,40,41,42,43,44],
        "labelExpr": "datum.value % 4 === 0 ? datum.label : ''", "labelOverlap": false, "labelFlush": false,
        "tickSize": 21, "tickWidth": 3, "domainWidth": 4, "labelFontSize": 57, "labelPadding": 36,
        "titleFontSize": 68, "titlePadding": 51,
        "encode": {"ticks": {"update": {"y2": {"signal": "datum.value % 4 === 0 ? 21 : 13"}}}}}},
    "y": {"field": "y", "type": "quantitative", "title": "Relative clipping yield difference (g g⁻¹)",
      "scale": {"domain": [-1, 1], "nice": false, "zero": false},
      "axis": {"values": [-1,-0.75,-0.5,-0.25,0,0.25,0.5,0.75,1], "format": ".2f",
        "labelExpr": "replace(datum.label, '\u2212', '-')",
        "tickSize": 22, "tickWidth": 3, "domainWidth": 4, "labelFontSize": 57, "labelPadding": 28,
        "titleFontSize": 68, "titlePadding": 46}}
  },
  "layer": [
    {
      "data": {"values": [{}]},
      "mark": {"type": "rule", "color": "black", "strokeWidth": 3, "strokeDash": [76, 25]},
      "encoding": {"x": {"datum": 0}, "x2": {"datum": 44}, "y": {"datum": 0}}
    },
    {
      "data": {"name": "scatter"},
      "mark": {"type": "point", "filled": true, "color": "#c3c3c3", "opacity": 1, "size": 270}
    },
    {
      "data": {"name": "band"},
      "mark": {"type": "line", "strokeWidth": 10, "strokeCap": "round", "interpolate": "monotone", "clip": true},
      "encoding": {
        "detail": {"field": "bound"},
        "color": {"field": "series", "type": "nominal",
          "scale": {"domain": ["Regression", "95% Prediction Band", "May 1", "July 1"], "range": ["#4a6c99", "#f5862b", "#000000", "#dc5512"]},
          "legend": {"title": null, "orient": "none", "legendX": 52, "legendY": 15, "direction": "horizontal",
            "symbolType": "stroke", "symbolSize": 18496, "symbolStrokeWidth": 9, "clipHeight": 60,
            "labelFont": "Liberation Sans", "labelFontSize": 56, "labelColor": "black", "labelOffset": 26, "labelLimit": 0, "columnPadding": 30,
            "padding": 44, "strokeColor": "black",
            "encode": {"legend": {"update": {"strokeWidth": {"value": 4}}}, "symbols": {"update": {"strokeCap": {"value": "round"}}}}}},
        "strokeDash": {"field": "series", "type": "nominal",
          "scale": {"domain": ["Regression", "95% Prediction Band", "May 1", "July 1"], "range": [[1, 0], [0.1, 25], [1, 0], [1, 0]]}}
      }
    },
    {
      "data": {"name": "regression"},
      "mark": {"type": "line", "strokeWidth": 10, "interpolate": "monotone"},
      "encoding": {"color": {"field": "series", "type": "nominal", "scale": {"domain": ["Regression", "95% Prediction Band", "May 1", "July 1"], "range": ["#4a6c99", "#f5862b", "#000000", "#dc5512"]}}}
    },
    {
      "data": {"name": "may"},
      "mark": {"type": "line", "strokeWidth": 11},
      "encoding": {"color": {"field": "series", "type": "nominal", "scale": {"domain": ["Regression", "95% Prediction Band", "May 1", "July 1"], "range": ["#4a6c99", "#f5862b", "#000000", "#dc5512"]}}}
    },
    {
      "data": {"name": "may"},
      "mark": {"type": "point", "filled": true, "opacity": 1, "size": 1600},
      "encoding": {"fill": {"field": "series", "type": "nominal",
        "scale": {"domain": ["May 1", "July 1"], "range": ["#05234c", "#dc5512"]},
        "legend": {"title": null, "orient": "none", "legendX": 1350, "legendY": 72, "direction": "horizontal",
          "symbolType": "circle", "symbolSize": 1600, "symbolStrokeWidth": 0, "symbolOpacity": 1,
          "labelExpr": "''", "labelFontSize": 10, "labelOffset": 0, "columnPadding": 317, "padding": 0}}}
    },
    {
      "data": {"name": "july"},
      "mark": {"type": "line", "strokeWidth": 11},
      "encoding": {"color": {"field": "series", "type": "nominal", "scale": {"domain": ["Regression", "95% Prediction Band", "May 1", "July 1"], "range": ["#4a6c99", "#f5862b", "#000000", "#dc5512"]}}}
    },
    {
      "data": {"name": "july"},
      "mark": {"type": "point", "filled": true, "opacity": 1, "size": 1600},
      "encoding": {"fill": {"field": "series", "type": "nominal", "scale": {"domain": ["May 1", "July 1"], "range": ["#05234c", "#dc5512"]}}}
    },
    {
      "data": {"name": "arrows"},
      "mark": {"type": "point", "filled": true, "opacity": 1, "size": 18225, "shape": "M-0.2,1L-0.2,-0.615L-0.4,-0.615L0,-1L0.4,-0.615L0.2,-0.615L0.2,1Z"},
      "encoding": {"fill": {"field": "series", "type": "nominal", "scale": {"domain": ["May 1", "July 1"], "range": ["#05234c", "#dc5512"]}, "legend": null}}
    },
    {
      "data": {"name": "notes"},
      "mark": {"type": "text", "font": "DejaVu Sans", "fontSize": 56, "align": "right", "baseline": "alphabetic", "color": "black"},
      "encoding": {"text": {"field": "label"}}
    },
    {
      "data": {"name": "formulaTail"},
      "mark": {"type": "text", "font": "DejaVu Sans", "fontSize": 58, "align": "right", "baseline": "alphabetic", "color": "black"},
      "encoding": {"text": {"field": "label"}}
    },
    {
      "data": {"name": "formulaHead"},
      "mark": {"type": "text", "font": "DejaVu Sans", "fontSize": 57, "align": "right", "baseline": "alphabetic", "color": "black"},
      "encoding": {"text": {"field": "label"}}
    },
    {
      "data": {"name": "formulaSup"},
      "mark": {"type": "text", "font": "DejaVu Sans", "fontSize": 41, "align": "left", "baseline": "alphabetic", "color": "black"},
      "encoding": {"text": {"field": "label"}}
    }
  ]
}
